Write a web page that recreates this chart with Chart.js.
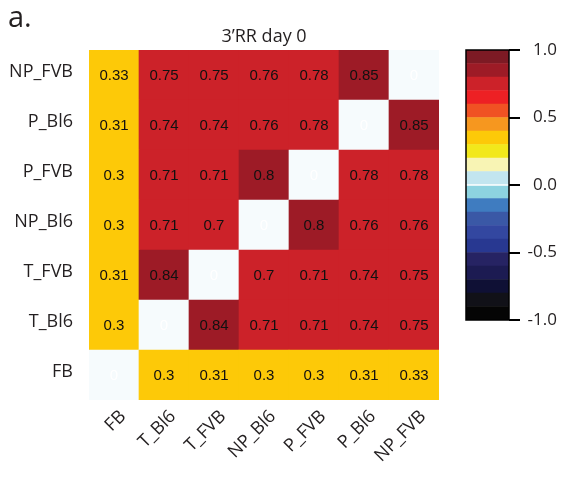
<!DOCTYPE html>
<html>
<head>
  <title>3'RR day 0 correlation</title>
  <script src="https://cdn.jsdelivr.net/npm/chart.js"></script>
  <style>
    body { margin: 0; background: #fff; }
    #wrap { position: relative; width: 563px; height: 481px; }
    #panel { position: absolute; left: 8px; top: 1px; font: 29px 'Open Sans'; line-height: 29px; color: #231f20; }
    #heat { position: absolute; left: 0; top: 0; }
    #bar { position: absolute; left: 440px; top: 0; }
  </style>
</head>
<body>
<div id="wrap">
  <canvas id="heat" width="563" height="481"></canvas>
  <canvas id="bar" width="123" height="481"></canvas>
  <div id="panel">a.</div>
</div>
<script>
// columns left to right, rows bottom to top
const colLabels = ['FB', 'T_Bl6', 'T_FVB', 'NP_Bl6', 'P_FVB', 'P_Bl6', 'NP_FVB'];
const rowLabels = ['FB', 'T_Bl6', 'T_FVB', 'NP_Bl6', 'P_FVB', 'P_Bl6', 'NP_FVB'];

const rowFB    = [0,    0.3,  0.31, 0.3,  0.3,  0.31, 0.33];
const rowTBl6  = [0.3,  0,    0.84, 0.71, 0.71, 0.74, 0.75];
const rowTFVB  = [0.31, 0.84, 0,    0.7,  0.71, 0.74, 0.75];
const rowNPBl6 = [0.3,  0.71, 0.7,  0,    0.8,  0.76, 0.76];
const rowPFVB  = [0.3,  0.71, 0.71, 0.8,  0,    0.78, 0.78];
const rowPBl6  = [0.31, 0.74, 0.74, 0.76, 0.78, 0,    0.85];
const rowNPFVB = [0.33, 0.75, 0.75, 0.76, 0.78, 0.85, 0];
const rows = [rowFB, rowTBl6, rowTFVB, rowNPBl6, rowPFVB, rowPBl6, rowNPFVB];

// colour scale, 20 bins from -1 to 1
const binEdges = [-1.0, -0.9, -0.8, -0.7, -0.6, -0.5, -0.4, -0.3, -0.2, -0.1, 0.0,
                  0.1, 0.2, 0.3, 0.4, 0.5, 0.6, 0.7, 0.8, 0.9, 1.0];
const binColors = ['#050505', '#111118', '#0f1035', '#1c1b52', '#262363',
                   '#283891', '#3347a0', '#3a58a6', '#3f7cc0', '#8dd3e0',
                   '#c2e5ef', '#f8f4b4', '#f2e81b', '#fdc908', '#f6971f',
                   '#f05223', '#ed2024', '#cc2229', '#9d1b26', '#7d1a24'];
const barTicks = [-1.0, -0.5, 0.0, 0.5, 1.0];
const diagColor = '#f6fbfd';

function colorFor(v) {
  if (v === 0) return diagColor;
  for (let i = 0; i < binColors.length; i++) {
    if (v >= binEdges[i] && v < binEdges[i + 1]) return binColors[i];
  }
  return binColors[binColors.length - 1];
}

const ink = '#231f20';

const cellText = {
  id: 'cellText',
  afterDatasetsDraw(chart) {
    const ctx = chart.ctx;
    ctx.save();
    ctx.font = '15px "Liberation Sans", Arial, sans-serif';
    ctx.textAlign = 'center';
    ctx.textBaseline = 'middle';
    chart.data.datasets.forEach((ds, r) => {
      chart.getDatasetMeta(r).data.forEach((el, c) => {
        const v = rows[r][c];
        ctx.fillStyle = v === 0 ? '#ffffff' : '#111111';
        ctx.fillText(String(v), el.x, (el.y + el.base) / 2 + 1);
      });
    });
    ctx.restore();
  }
};

new Chart(document.getElementById('heat'), {
  type: 'bar',
  data: {
    labels: colLabels,
    datasets: rows.map((vals, r) => ({
      label: rowLabels[r],
      data: vals.map(() => [r - 0.5, r + 0.5]),
      backgroundColor: vals.map(colorFor),
      borderWidth: 0
    }))
  },
  options: {
    responsive: false,
    animation: false,
    grouped: false,
    barPercentage: 1,
    categoryPercentage: 1,
    layout: { padding: { left: 0, right: 124, top: 0, bottom: 0 } },
    plugins: {
      legend: { display: false },
      tooltip: { enabled: false },
      title: {
        display: true,
        fullSize: false,
        text: '3\u2019RR day 0',
        color: ink,
        font: { family: 'Open Sans', size: 18, weight: 'normal' },
        padding: { top: 26.2, bottom: 2.2 }
      }
    },
    scales: {
      x: {
        grid: { display: false, drawTicks: false },
        border: { display: false },
        ticks: {
          color: ink,
          font: { family: 'Open Sans', size: 18 },
          minRotation: 45, maxRotation: 45,
          labelOffset: 9,
          padding: 6
        },
        afterFit(axis) { axis.height = 81; }
      },
      y: {
        min: -0.5, max: 6.5,
        afterBuildTicks(axis) { axis.ticks = rowLabels.map((_, i) => ({ value: i })); },
        grid: { display: false, drawTicks: false },
        border: { display: false },
        ticks: {
          color: ink,
          font: { family: 'Open Sans', size: 18 },
          padding: 16,
          labelOffset: -3,
          callback: v => rowLabels[v]
        },
        afterFit(axis) { axis.width = 89; }
      }
    }
  },
  plugins: [cellText]
});

const frame = {
  id: 'frame',
  afterDatasetsDraw(chart) {
    const a = chart.chartArea;
    const ctx = chart.ctx;
    ctx.save();
    ctx.strokeStyle = '#000';
    ctx.lineWidth = 1.5;
    ctx.strokeRect(a.left, a.top, a.right - a.left, a.bottom - a.top);
    ctx.restore();
  }
};

new Chart(document.getElementById('bar'), {
  type: 'bar',
  data: {
    labels: ['scale'],
    datasets: binColors.map((col, i) => ({
      data: [[binEdges[i], binEdges[i + 1]]],
      backgroundColor: col,
      borderWidth: 0
    }))
  },
  options: {
    responsive: false,
    animation: false,
    grouped: false,
    barPercentage: 1,
    categoryPercentage: 1,
    layout: { padding: { left: 26, right: 6, top: 50, bottom: 161 } },
    plugins: { legend: { display: false }, tooltip: { enabled: false } },
    scales: {
      x: { display: false },
      y: {
        position: 'right',
        min: -1, max: 1,
        afterBuildTicks(axis) { axis.ticks = barTicks.map(v => ({ value: v })); },
        grid: { drawOnChartArea: false, tickLength: 11, color: '#000', lineWidth: 2 },
        border: { display: false },
        ticks: {
          color: ink,
          crossAlign: 'far',
          font: { family: 'Open Sans', size: 17 },
          callback: v => Number(v).toFixed(1)
        },
        afterFit(axis) { axis.width = 48; }
      }
    }
  },
  plugins: [frame]
});
</script>
</body>
</html>
